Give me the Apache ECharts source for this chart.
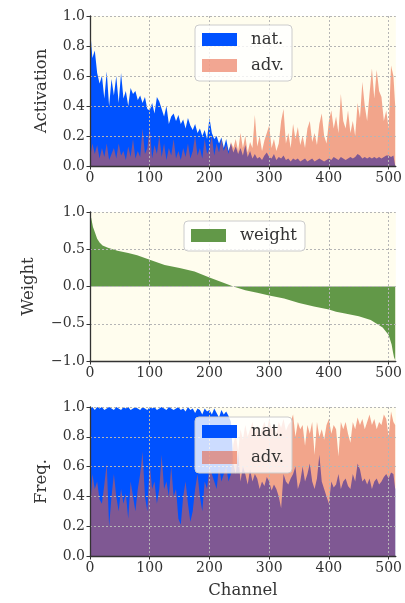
<!DOCTYPE html>
<html>
<head>
<meta charset="utf-8">
<script src="https://cdn.jsdelivr.net/npm/echarts@6/dist/echarts.min.js"></script>
<style>html,body{margin:0;padding:0;background:#fff}#c{width:405px;height:603px}</style>
</head>
<body>
<div id="c"></div>
<script>
// ---- data ----
// channel positions for panels 1 and 3 (every 4th channel, plus the last one)
const channels = [...Array(128).keys()].map(i => i * 4).concat([511]);
const xTicks = [0, 100, 200, 300, 400, 500];

const actNat = [0.92,0.72,0.77,0.62,0.55,0.60,0.45,0.63,0.40,0.58,
 0.47,0.60,0.42,0.62,0.45,0.50,0.40,0.52,0.48,0.50,
 0.44,0.47,0.42,0.46,0.38,0.37,0.42,0.35,0.46,0.43,
 0.38,0.33,0.40,0.28,0.33,0.35,0.30,0.34,0.28,0.31,
 0.25,0.32,0.27,0.24,0.28,0.22,0.25,0.20,0.24,0.18,
 0.32,0.22,0.18,0.20,0.15,0.19,0.12,0.18,0.10,0.15,
 0.09,0.13,0.08,0.12,0.07,0.14,0.06,0.10,0.05,0.08,
 0.05,0.06,0.04,0.07,0.09,0.06,0.05,0.08,0.04,0.06,
 0.05,0.07,0.04,0.05,0.03,0.05,0.04,0.05,0.03,0.04,
 0.05,0.03,0.04,0.05,0.03,0.04,0.05,0.04,0.03,0.04,
 0.05,0.04,0.06,0.05,0.04,0.06,0.05,0.04,0.05,0.06,
 0.05,0.06,0.08,0.07,0.05,0.06,0.05,0.06,0.05,0.06,
 0.05,0.06,0.05,0.06,0.07,0.07,0.06,0.07,0.06];

const actAdv = [0.05,0.15,0.08,0.14,0.05,0.12,0.06,0.15,0.04,0.08,
 0.12,0.05,0.15,0.07,0.10,0.04,0.13,0.06,0.18,0.05,
 0.10,0.06,0.25,0.08,0.12,0.26,0.05,0.14,0.08,0.20,
 0.06,0.15,0.04,0.12,0.07,0.18,0.05,0.10,0.04,0.12,
 0.06,0.15,0.05,0.10,0.20,0.07,0.12,0.05,0.18,0.08,
 0.12,0.20,0.07,0.15,0.09,0.18,0.10,0.14,0.08,0.16,
 0.12,0.18,0.10,0.22,0.12,0.20,0.09,0.16,0.12,0.34,
 0.13,0.20,0.10,0.17,0.22,0.27,0.12,0.18,0.10,0.15,
 0.30,0.38,0.15,0.22,0.12,0.28,0.18,0.26,0.14,0.20,
 0.12,0.25,0.30,0.16,0.22,0.14,0.28,0.35,0.20,0.15,
 0.30,0.37,0.25,0.33,0.22,0.48,0.30,0.25,0.37,0.22,
 0.30,0.20,0.42,0.32,0.56,0.40,0.30,0.48,0.65,0.45,
 0.64,0.50,0.46,0.30,0.37,0.25,0.67,0.60,0.40];

const weightChannels = [0,2,5,8,12,16,21,30,46,64,79,100,125,150,175,200,220,240,260,280,300,325,350,375,400,412,425,450,470,478,490,494,500,502,505,507,509,511];
const weightValues = [0.95,0.92,0.80,0.73,0.64,0.59,0.55,0.52,0.48,0.45,0.42,0.36,0.29,0.25,0.20,0.12,0.06,0.0,-0.05,-0.085,-0.12,-0.16,-0.22,-0.27,-0.31,-0.34,-0.36,-0.40,-0.45,-0.49,-0.55,-0.59,-0.65,-0.70,-0.78,-0.87,-0.95,-0.99];

const freqNat = [0.99,1.0,0.98,1.0,0.99,1.0,0.98,0.99,1.0,0.99,
 0.98,1.0,0.99,0.98,1.0,0.99,1.0,0.98,0.99,1.0,
 0.99,0.98,1.0,0.99,0.98,1.0,0.99,1.0,0.98,0.99,
 1.0,0.99,0.98,1.0,0.99,0.98,0.99,1.0,0.98,0.99,
 0.97,1.0,0.98,0.99,0.96,0.99,0.98,0.95,0.99,0.97,
 0.98,0.95,0.99,0.96,0.93,0.98,0.95,0.97,0.94,0.90,
 0.62,0.55,0.70,0.50,0.60,0.55,0.48,0.58,0.50,0.55,
 0.52,0.45,0.50,0.47,0.53,0.50,0.44,0.48,0.45,0.40,
 0.32,0.55,0.50,0.48,0.52,0.55,0.60,0.45,0.50,0.60,
 0.50,0.55,0.62,0.50,0.45,0.52,0.68,0.50,0.45,0.40,
 0.35,0.50,0.46,0.48,0.55,0.45,0.50,0.52,0.47,0.45,
 0.55,0.50,0.62,0.58,0.50,0.52,0.48,0.52,0.45,0.50,
 0.52,0.48,0.50,0.53,0.55,0.52,0.56,0.55,0.45];

const freqAdv = [0.30,0.55,0.45,0.50,0.38,0.35,0.48,0.62,0.20,0.40,
 0.55,0.40,0.30,0.45,0.35,0.42,0.25,0.50,0.40,0.30,
 0.45,0.55,0.70,0.40,0.30,0.62,0.45,0.50,0.35,0.45,
 0.68,0.45,0.50,0.40,0.60,0.40,0.45,0.25,0.21,0.40,
 0.50,0.35,0.23,0.30,0.45,0.55,0.40,0.30,0.50,0.45,
 0.60,0.55,0.50,0.45,0.60,0.50,0.55,0.60,0.50,0.55,
 0.75,0.82,0.70,0.85,0.78,0.88,0.80,0.85,0.90,0.82,
 0.88,0.80,0.86,0.90,0.84,0.92,0.85,0.88,0.82,0.90,
 0.86,0.92,0.84,0.88,0.90,0.95,0.80,0.90,0.85,0.88,
 0.74,0.88,0.82,0.90,0.68,0.90,0.80,0.85,0.78,0.88,
 0.92,0.82,0.88,0.85,0.67,0.90,0.85,0.90,0.82,0.76,
 0.90,0.85,0.93,0.88,0.92,0.85,0.90,0.95,0.88,0.92,
 0.85,0.90,0.88,0.95,0.92,0.80,0.97,0.90,0.88];

// ---- styling ----
const FONT = 'DejaVu Serif';
const TXT = '#333';
const BLUE = '#0052ff';
const ADV = 'rgba(231,93,58,0.55)';
const GREEN = '#629848';
const BG = '#fffdee';

const pairs = (xs, ys) => xs.map((x, i) => [x, ys[i]]);
const fmt = v => (v < 0 ? '\u2212' : '') + Math.abs(v).toFixed(1);

const grids = [
  {left: 90, top: 16, width: 311, height: 150},
  {left: 90, top: 212, width: 311, height: 149},
  {left: 90, top: 407, width: 311, height: 149}
].map(g => Object.assign({show: true, backgroundColor: BG, borderWidth: 0}, g));

function xAxis(i, extra) {
  return Object.assign({
    type: 'value', gridIndex: i, min: 0, max: 512, z: 5,
    axisLine: {show: true, onZero: false, lineStyle: {color: TXT, width: 1.3}},
    axisTick: {show: true, length: 3.5, customValues: xTicks, lineStyle: {color: TXT}},
    axisLabel: {customValues: xTicks, fontFamily: FONT, fontSize: 14, color: TXT, margin: 5},
    splitLine: {show: true, lineStyle: {color: '#b5b5b5', type: [2, 2], width: 1}}
  }, extra || {});
}
function yAxis(i, min, max, interval, name, gap) {
  return {
    type: 'value', gridIndex: i, min, max, interval, z: 5,
    name, nameLocation: 'middle', nameGap: gap,
    nameTextStyle: {fontFamily: FONT, fontSize: 16.5, color: TXT},
    axisLine: {show: true, onZero: false, lineStyle: {color: TXT, width: 1.3}},
    axisTick: {show: true, length: 3.5, lineStyle: {color: TXT}},
    axisLabel: {fontFamily: FONT, fontSize: 14, color: TXT, margin: 5, formatter: fmt},
    splitLine: {show: true, lineStyle: {color: '#b5b5b5', type: [2, 2], width: 1}}
  };
}
function area(name, xi, xs, ys, color) {
  return {
    type: 'line', name, xAxisIndex: xi, yAxisIndex: xi,
    data: pairs(xs, ys), symbol: 'none', showSymbol: false,
    lineStyle: {width: 0, opacity: 0}, itemStyle: {color},
    areaStyle: {color, opacity: 1}, z: 2, animation: false
  };
}
function legend(left, top, items) {
  return {
    left, top, orient: 'vertical', icon: 'rect', itemWidth: 35, itemHeight: 13, itemGap: 9,
    selectedMode: false, z: 10,
    data: items,
    textStyle: {fontFamily: FONT, fontSize: 16.5, color: TXT, padding: [0, 0, 0, 9]},
    backgroundColor: 'rgba(255,255,255,0.8)', borderColor: '#cccccc', borderWidth: 1,
    borderRadius: 4, padding: [6, 8, 7, 7]
  };
}

const option = {
  animation: false,
  grid: grids,
  xAxis: [xAxis(0), xAxis(1), xAxis(2, {
    name: 'Channel', nameLocation: 'middle', nameGap: 26,
    nameTextStyle: {fontFamily: FONT, fontSize: 16.5, color: TXT}
  })],
  yAxis: [
    yAxis(0, 0, 1, 0.2, 'Activation', 40),
    yAxis(1, -1, 1, 0.5, 'Weight', 53),
    yAxis(2, 0, 1, 0.2, 'Freq.', 40)
  ],
  legend: [
    legend(195, 25, [{name: 'nat.', itemStyle: {color: BLUE}}, {name: 'adv.', itemStyle: {color: ADV}}]),
    legend(184, 221, [{name: 'weight', itemStyle: {color: GREEN}}]),
    legend(195, 417, [{name: 'nat.', itemStyle: {color: BLUE}}, {name: 'adv.', itemStyle: {color: ADV}}])
  ],
  series: [
    area('nat.', 0, channels, actNat, BLUE),
    area('adv.', 0, channels, actAdv, ADV),
    area('weight', 1, weightChannels, weightValues, GREEN),
    area('nat.', 2, channels, freqNat, BLUE),
    area('adv.', 2, channels, freqAdv, ADV)
  ]
};
const chart = echarts.init(document.getElementById('c'), null, {renderer: 'canvas'});
chart.setOption(option);
</script>
</body>
</html>
